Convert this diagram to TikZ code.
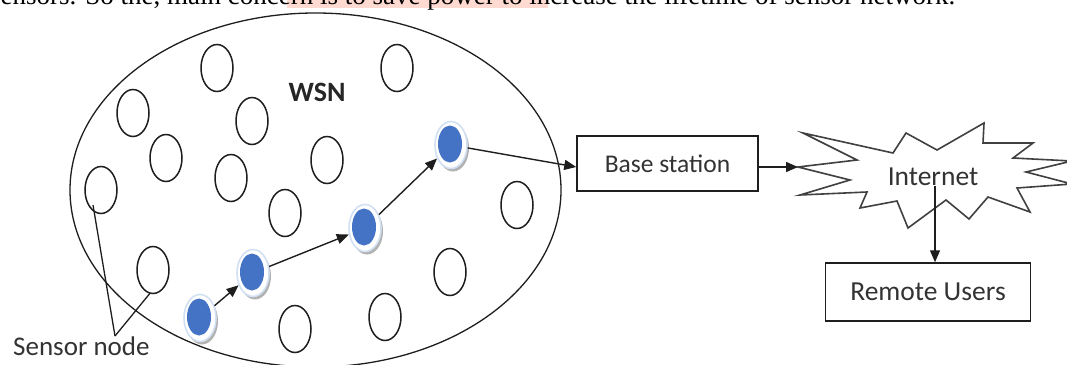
\documentclass[tikz,border=0pt]{standalone}
\usepackage{fontspec}
\setmainfont{Liberation Serif}
\newfontfamily\carl{Carlito}
\usetikzlibrary{arrows.meta,shapes.geometric,shadows,calc}
\definecolor{nodeblue}{RGB}{68,114,196}
\definecolor{halo}{RGB}{210,224,244}
\definecolor{hilite}{RGB}{255,218,208}
\definecolor{ink}{RGB}{30,30,30}
\begin{document}
\begin{tikzpicture}[x=1pt,y=-1pt,
  sensor/.style={draw=ink, line width=1.5pt, ellipse, minimum width=32pt, minimum height=47pt, inner sep=0pt},
  active/.style={ellipse, minimum width=32pt, minimum height=47pt, inner sep=0pt, fill=white, draw=halo, line width=1.6pt,
     drop shadow={shadow xshift=2pt, shadow yshift=-3pt, fill=black, opacity=0.3}},
  boxnode/.style={draw=ink, line width=1.5pt, rectangle, inner sep=0pt, text=black!80},
  arr/.style={draw=ink, line width=1.4pt, -{Triangle[length=12pt,width=10pt]}},
  link/.style={draw=ink, line width=1.3pt}
]
\useasboundingbox (0,0) rectangle (1067,364);
\clip (0,0) rectangle (1067,364);
\fill[white] (0,0) rectangle (1067,364);

% cut-off sentence at the top
\fill[hilite] (287,-1) rectangle (548,7.5);
\node[anchor=base west, inner sep=0pt, font=\fontsize{27}{32}\selectfont] (intro) at (-10,4.7)
  {sensors. So the, main concern is to save power to increase the lifetime of sensor network.};

% WSN area
\node[draw=ink, line width=1.3pt, ellipse, minimum width=491pt, minimum height=354pt, inner sep=0pt] (wsnarea) at (315.5,190) {};
\node[font=\carl\bfseries\fontsize{28}{32}\selectfont, text=black!85] (wsn) at (317,92.5) {WSN};

% idle sensor nodes
\node[sensor] (c1) at (217,68) {};
\node[sensor] (c2) at (397,68) {};
\node[sensor] (c3) at (133,113) {};
\node[sensor] (c4) at (252,121) {};
\node[sensor] (c5) at (166,158) {};
\node[sensor] (c6) at (231,178) {};
\node[sensor] (c7) at (327,160) {};
\node[sensor] (c8) at (101,190) {};
\node[sensor] (c9) at (285,213) {};
\node[sensor] (c10) at (517,205) {};
\node[sensor] (c11) at (153,270) {};
\node[sensor] (c12) at (450,272) {};
\node[sensor] (c13) at (385,317) {};
\node[sensor] (c14) at (295,329) {};

% active path nodes
\node[active] (A) at (200,318) {};
\node[active] (B) at (253,273) {};
\node[active] (C) at (365,228) {};
\node[active] (D) at (451,145) {};
\foreach \n in {A,B,C,D} {
  \fill[nodeblue] ($(\n.center)+(-1,-1)$) ellipse [x radius=12pt, y radius=18.5pt];
}

% Base station and Remote Users
\node[boxnode, minimum width=181pt, minimum height=55pt, font=\carl\fontsize{25.5}{30}\selectfont] (bs) at (667.5,163.5) {Base station};
\node[boxnode, minimum width=205pt, minimum height=58pt, font=\carl\fontsize{27.5}{32}\selectfont] (ru) at (928,292) {Remote Users};

% Internet starburst
\draw[draw=black!75, line width=1.6pt, fill=white, line join=miter, miter limit=20]
  (803,133) -- (893,153) -- (906,133) -- (937,150) -- (984,123) -- (983,143) -- (1033,143) -- (1013,158)
  -- (1072,161) -- (1026,172) -- (1072,184) -- (1017,188) -- (1030,212) -- (988,197) -- (969,219)
  -- (946,200) -- (908,228) -- (897,201) -- (860,208) -- (867,192) -- (800,195) -- (850,180)
  -- (798,167) -- (857,160) -- cycle;
\node[font=\carl\fontsize{27.5}{32}\selectfont, text=black!80] (inet) at (933,176.5) {Internet};
\coordinate (inetL) at (798,167);
\coordinate (inetS) at (935,186);

% connectors
\draw[arr] (A) -- (B);
\draw[arr] (B) -- (C);
\draw[arr] (C) -- (D);
\draw[arr] (D) -- (bs.west |- inetL);
\draw[arr] (bs.east |- inetL) -- (inetL);
\draw[arr] (inetS) -- (inetS |- ru.north);

% Sensor node label
\node[anchor=base west, inner sep=0pt, font=\carl\fontsize{27}{32}\selectfont, text=black!80] (lbl) at (13,355) {Sensor node};
\coordinate (apex) at (115,336);
\draw[link] (apex) -- ($(c8.center)+(-8,15)$);
\draw[link] (apex) -- ($(c11.south)+(-3,-1)$);
\end{tikzpicture}
\end{document}
